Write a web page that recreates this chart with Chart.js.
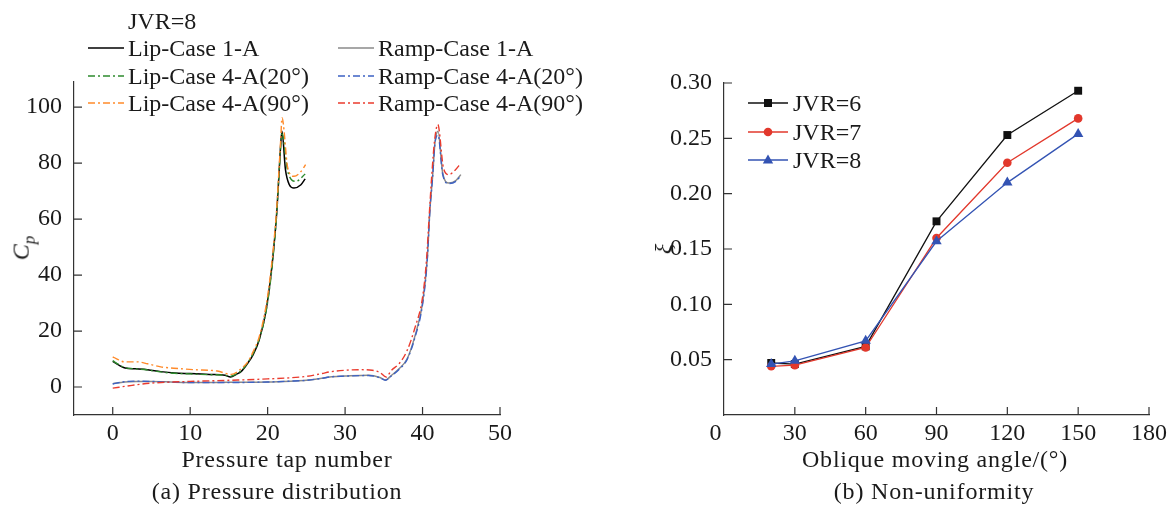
<!DOCTYPE html>
<html>
<head>
<meta charset="utf-8">
<script src="https://cdn.jsdelivr.net/npm/chart.js@4"></script>
<style>
  body { margin: 0; background: #fff; }
  #fig { position: relative; width: 1170px; height: 505px; overflow: hidden;
         font-family: "Liberation Serif", serif; color: #1a1a1a; }
  canvas { position: absolute; top: 0; }
  .t { position: absolute; white-space: nowrap; font-size: 24px; line-height: 28px;
       transform: translate(-50%, -50%); letter-spacing: 0.8px; }
  .lg { position: absolute; white-space: nowrap; font-size: 24px; line-height: 28px;
        transform: translateY(-50%); }
  .lg svg { position: absolute; top: 4px; }
  .rot { transform: translate(-50%, -50%) rotate(-90deg); letter-spacing: 0; }
</style>
</head>
<body>
<div id="fig">
  <canvas id="chart-a" width="540" height="505" style="left:0"></canvas>
  <canvas id="chart-b" width="570" height="505" style="left:600px"></canvas>

  <!-- legend (a) -->
  <div class="lg" style="left:128px;top:21px">JVR=8</div>
  <div id="legend-a"></div>
  <!-- legend (b) -->
  <div id="legend-b"></div>

  <div class="t rot" style="left:25px;top:248px"><i>C</i><sub style="font-size:17px"><i>p</i></sub></div>
  <div class="t rot" style="left:663px;top:249px"><i>ξ</i></div>
  <div class="t" style="left:287px;top:459px">Pressure tap number</div>
  <div class="t" style="left:935px;top:459px">Oblique moving angle/(°)</div>
  <div class="t" style="left:277px;top:491px">(a) Pressure distribution</div>
  <div class="t" style="left:934px;top:491px">(b) Non-uniformity</div>
</div>
<script>
// ---- (a) pressure distribution, JVR=8 ----
const lip1X = [0, 0.8, 1.6, 3, 4.5, 6.2, 8, 10, 12.5, 14.5, 15.2, 16, 16.6, 17.3, 18.1, 18.9, 19.8, 20.4, 20.85, 21.2, 21.45, 21.7, 21.85, 22.3, 22.8, 23.4, 24.3, 24.85];
const lip1Y = [9.2, 7.8, 6.8, 6.5, 6.2, 5.5, 5.0, 4.8, 4.5, 4.2, 3.6, 4.6, 5.6, 8.0, 11.4, 16.7, 27.4, 39.4, 51.4, 63.3, 75.3, 87.2, 91.4, 77.7, 72.3, 71.1, 72.3, 74.4];

const lip20X = [0, 0.8, 1.6, 3, 4.5, 6.2, 8, 10, 12.5, 14.5, 15.2, 16, 16.6, 17.3, 18.1, 18.9, 19.8, 20.4, 20.85, 21.2, 21.45, 21.7, 21.85, 22.6, 23.65, 24.85];
const lip20Y = [9.4, 8.0, 6.9, 6.5, 6.1, 5.4, 4.9, 4.7, 4.4, 4.2, 3.8, 4.7, 5.8, 8.2, 11.8, 17.0, 27.0, 38.5, 51.0, 63.0, 75.0, 86.5, 90.5, 77.0, 73.5, 76.1];

const lip90X = [0, 0.7, 1.5, 3.2, 4.5, 6.2, 8.5, 10.5, 13.5, 15.3, 16.6, 17.5, 18.1, 18.9, 19.8, 20.4, 20.85, 21.2, 21.45, 21.7, 21.85, 22.6, 23.4, 24.3, 24.9];
const lip90Y = [10.8, 9.8, 9.0, 9.0, 8.3, 7.2, 6.6, 6.2, 5.7, 4.5, 6.6, 9.2, 12.5, 17.8, 29.0, 41.0, 53.0, 65.0, 77.0, 89.0, 96.2, 78.3, 75.3, 77.0, 79.5];

const rampX = [0, 1.5, 3, 5, 8, 10, 15, 20, 23, 25, 27, 28, 30, 33, 34.5, 35.2, 36, 37, 38, 39, 40, 40.6, 40.95, 41.3, 41.6, 42, 42.6, 43.4, 44.3, 44.95];
const ramp1Y = [1.2, 1.8, 2.0, 2.0, 1.7, 1.6, 1.7, 1.8, 2.1, 2.4, 3.1, 3.6, 3.9, 4.2, 3.4, 2.5, 4.2, 6.6, 10.0, 18.0, 30.0, 45.4, 63.3, 75.3, 87.2, 91.4, 76.5, 72.9, 73.8, 75.9];
const ramp20Y = [1.1, 1.9, 2.1, 2.0, 1.7, 1.6, 1.6, 1.8, 2.1, 2.4, 3.1, 3.6, 3.9, 4.1, 3.3, 2.4, 4.0, 6.4, 9.8, 17.5, 29.5, 45.0, 63.0, 75.0, 87.0, 90.0, 76.0, 72.7, 73.5, 75.6];

const ramp90X = [0, 2.5, 5, 10, 15, 20, 25, 27, 28, 30, 32, 33.5, 34.5, 35.3, 36, 37, 38, 39, 40, 40.5, 40.9, 41.2, 41.55, 41.97, 42.7, 43.4, 44.2, 44.95];
const ramp90Y = [-0.4, 0.6, 1.4, 2.0, 2.4, 2.9, 3.8, 4.8, 5.4, 6.0, 6.2, 6.0, 5.2, 3.6, 6.0, 8.4, 13.0, 21.0, 32.0, 45.0, 63.0, 76.0, 88.0, 93.8, 78.3, 75.9, 77.5, 80.0];

const ticksAX = [0, 10, 20, 30, 40, 50];
const ticksAY = [0, 20, 40, 60, 80, 100];

// ---- (b) non-uniformity ----
const angles = [20, 30, 60, 90, 120, 150];
const xiJvr6 = [0.047, 0.046, 0.062, 0.175, 0.253, 0.293];
const xiJvr7 = [0.044, 0.045, 0.061, 0.160, 0.228, 0.268];
const xiJvr8 = [0.046, 0.049, 0.067, 0.157, 0.210, 0.254];

const ticksBX = [0, 30, 60, 90, 120, 150, 180];
const ticksBY = [0.05, 0.10, 0.15, 0.20, 0.25, 0.30];

const AXIS = '#333';
const DASHDOT = [7, 3, 2, 3];

Chart.defaults.font.family = '"Liberation Serif", serif';
Chart.defaults.font.size = 24;
Chart.defaults.color = '#1a1a1a';

function pts(xs, ys) {
    return xs.map((x, i) => ({ x: x, y: ys[i] }));
}

// ticks point into the plot, like the original figure
const inwardTicks = {
    id: 'inwardTicks',
    afterDatasetsDraw(chart) {
        const { ctx, chartArea, scales } = chart;
        ctx.save();
        ctx.strokeStyle = AXIS;
        ctx.lineWidth = 1.2;
        ctx.beginPath();
        scales.x.ticks.forEach(t => {
            const px = scales.x.getPixelForValue(t.value);
            if (px < chartArea.left + 2) return;
            ctx.moveTo(px, chartArea.bottom);
            ctx.lineTo(px, chartArea.bottom - 8);
        });
        scales.y.ticks.forEach(t => {
            const py = scales.y.getPixelForValue(t.value);
            if (py > chartArea.bottom - 2) return;
            ctx.moveTo(chartArea.left, py);
            ctx.lineTo(chartArea.left + 8, py);
        });
        ctx.stroke();
        ctx.restore();
    },
};

function fixedScale(size, list, fmt) {
    return {
        type: 'linear',
        grid: { display: false },
        border: { display: true, color: AXIS, width: 1.2 },
        ticks: {
            padding: 4,
            autoSkip: false,
            maxRotation: 0,
            callback: fmt || (v => String(v)),
        },
        afterBuildTicks: s => { s.ticks = list.map(v => ({ value: v })); },
        afterFit: s => {
            if (s.isHorizontal()) s.height = size; else s.width = size;
            s.paddingLeft = s.paddingRight = s.paddingTop = s.paddingBottom = 0;
        },
    };
}

function lineSet(label, data, color, dashed, width, order) {
    return {
        label: label,
        data: data,
        borderColor: color,
        borderWidth: width,
        borderDash: dashed ? DASHDOT : [],
        pointRadius: 0,
        fill: false,
        cubicInterpolationMode: 'monotone',
        order: order,
    };
}

const seriesA = [
    { label: 'Lip-Case 1-A', color: '#000000', dashed: false, x: lip1X, y: lip1Y, col: 0 },
    { label: 'Lip-Case 4-A(20°)', color: '#2e8b2e', dashed: true, x: lip20X, y: lip20Y, col: 0 },
    { label: 'Lip-Case 4-A(90°)', color: '#ff8a2a', dashed: true, x: lip90X, y: lip90Y, col: 0 },
    { label: 'Ramp-Case 1-A', color: '#8a8a8a', dashed: false, x: rampX, y: ramp1Y, col: 1 },
    { label: 'Ramp-Case 4-A(20°)', color: '#3d62c4', dashed: true, x: rampX, y: ramp20Y, col: 1 },
    { label: 'Ramp-Case 4-A(90°)', color: '#ea3b2e', dashed: true, x: ramp90X, y: ramp90Y, col: 1 },
];

const xScaleA = fixedScale(90, ticksAX);
xScaleA.min = -5; xScaleA.max = 50;
xScaleA.ticks.padding = -4;
const yScaleA = fixedScale(74, ticksAY);
yScaleA.min = -10; yScaleA.max = 109;

new Chart(document.getElementById('chart-a'), {
    type: 'line',
    data: {
        datasets: seriesA.map((s, i) => lineSet(s.label, pts(s.x, s.y), s.color, s.dashed, s.dashed ? 1.4 : 1.5, 6 - i)),
    },
    options: {
        responsive: false,
        animation: false,
        layout: { padding: { left: 0, top: 82, right: 40, bottom: 0 } },
        plugins: { legend: { display: false }, tooltip: { enabled: false } },
        scales: { x: xScaleA, y: yScaleA },
    },
    plugins: [inwardTicks],
});

const seriesB = [
    { label: 'JVR=6', color: '#111111', marker: 'rect', radius: 5.6, y: xiJvr6 },
    { label: 'JVR=7', color: '#e2382c', marker: 'circle', radius: 4.3, y: xiJvr7 },
    { label: 'JVR=8', color: '#3353b3', marker: 'triangle', radius: 6, y: xiJvr8 },
];

// the corner "0" sits a little left of the axis in the original
const xScaleB = fixedScale(90, ticksBX, v => (v === 0 ? '0\u2007\u2009' : String(v)));
xScaleB.min = 0; xScaleB.max = 180;
xScaleB.ticks.padding = -4;
const yScaleB = fixedScale(124, ticksBY, v => v.toFixed(2));
yScaleB.min = 0; yScaleB.max = 0.30;

new Chart(document.getElementById('chart-b'), {
    type: 'line',
    data: {
        datasets: seriesB.map((s, i) => ({
            label: s.label,
            data: pts(angles, s.y),
            borderColor: s.color,
            backgroundColor: s.color,
            borderWidth: 1.3,
            pointStyle: s.marker,
            pointRadius: s.radius,
            pointBorderWidth: 0,
            fill: false,
            tension: 0,
            order: 3 - i,
        })),
    },
    options: {
        responsive: false,
        animation: false,
        layout: { padding: { left: 0, top: 83, right: 21, bottom: 0 } },
        plugins: { legend: { display: false }, tooltip: { enabled: false } },
        scales: { x: xScaleB, y: yScaleB },
    },
    plugins: [inwardTicks],
});

// ---- HTML legends ----
function dashAttr(s) {
    return s.dashed ? ` stroke-dasharray="${DASHDOT.join(' ')}"` : '';
}

const legA = document.getElementById('legend-a');
const rowsA = [48, 76, 103];
seriesA.forEach((s, i) => {
    const row = s.col === 0 ? i : i - 3;
    const left = s.col === 0 ? 88 : 338;
    const d = document.createElement('div');
    d.className = 'lg';
    d.style.left = left + 'px';
    d.style.top = rowsA[row] + 'px';
    d.style.paddingLeft = '40px';
    d.innerHTML = `<svg width="36" height="20" style="left:0;top:4px"><line x1="0" y1="10" x2="36" y2="10" stroke="${s.color}" stroke-width="1.5"${dashAttr(s)}/></svg>${s.label}`;
    legA.appendChild(d);
});

function markerSvg(s) {
    if (s.marker === 'rect') return `<rect x="16" y="6" width="8" height="8" fill="${s.color}"/>`;
    if (s.marker === 'circle') return `<circle cx="20" cy="10" r="4.3" fill="${s.color}"/>`;
    return `<polygon points="20,4.5 25.2,13.5 14.8,13.5" fill="${s.color}"/>`;
}

const legB = document.getElementById('legend-b');
const rowsB = [103, 132, 160];
seriesB.forEach((s, i) => {
    const d = document.createElement('div');
    d.className = 'lg';
    d.style.left = '748px';
    d.style.top = rowsB[i] + 'px';
    d.style.paddingLeft = '45px';
    d.innerHTML = `<svg width="40" height="20" style="left:0;top:4px"><line x1="0" y1="10" x2="40" y2="10" stroke="${s.color}" stroke-width="1.3"/>${markerSvg(s)}</svg>${s.label}`;
    legB.appendChild(d);
});
</script>
</body>
</html>
